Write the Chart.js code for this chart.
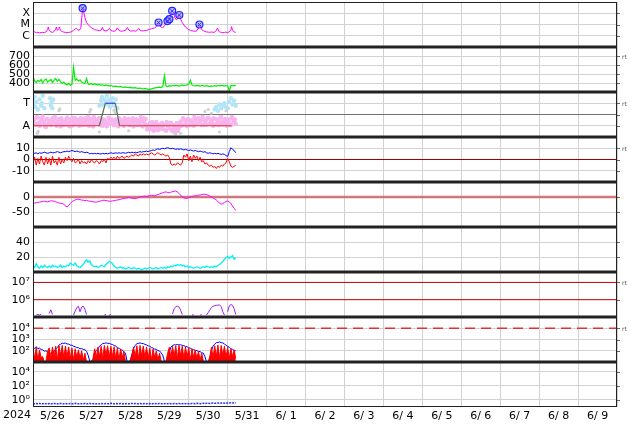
<!DOCTYPE html>
<html><head><meta charset="utf-8">
<script src="https://cdn.jsdelivr.net/npm/chart.js@4/dist/chart.umd.min.js"></script>
<style>html,body{margin:0;padding:0;background:#fff;}canvas{display:block;}</style>
</head><body>
<canvas id="c" width="634" height="424"></canvas>
<script>
// ---------- DATA (time in hours since 2024-05-26 00:00 UT) ----------
const dayLabels = ['5/26','5/27','5/28','5/29','5/30','5/31','6/ 1','6/ 2','6/ 3','6/ 4','6/ 5','6/ 6','6/ 7','6/ 8','6/ 9'];
const yearLabel = '2024';
const rtLabel = 'rt';

// Panel 1: X-ray flux (1e-6 W/m2 units)  [hour, flux]
const xray = [[0,3.0],[1,2.2],[2,1.9],[3,2.0],[4,1.8],[5,1.9],[6,2.0],[7,1.9],[8,2.2],[9,3.5],[9.4,6.0],[10,3.0],[11,2.2],[12,2.0],[13,2.4],[14,4.0],[14.4,6.0],[15,3.0],[16,4.5],[16.2,6.0],[17,3.0],[18,2.4],[19,2.1],[20,2.0],[21,1.9],[22,2.0],[23,2.1],[24,2.4],[25,3.0],[26,4.0],[26.7,4.6],[27.5,3.5],[28.5,3.0],[29.5,5.0],[30.2,60],[30.6,280],[31.2,150],[32,40],[33,15],[34,10],[35,7],[36,5],[37,4.2],[38,3.6],[39,3.2],[40,3.0],[41,2.8],[42,3.2],[42.8,5.5],[43.5,3.0],[45,2.7],[46,3.0],[47.1,4.5],[48,3.0],[49,2.6],[50,2.5],[51,2.8],[52,5.0],[53,3.0],[54,2.6],[55,2.5],[56,2.8],[57,3.0],[58.2,5.5],[59,3.2],[60,2.7],[61,2.6],[62,2.9],[63,2.5],[64,2.8],[65.2,4.5],[66,3.0],[67,2.8],[68,2.7],[69,2.9],[70,3.0],[71,3.4],[72,3.8],[73,4.2],[74,4.6],[75,5.0],[76,6.5],[77,10],[77.4,15],[78,8],[79,6],[80,5.5],[81,7],[82,12],[82.9,20],[83.5,15],[84.1,30],[84.8,60],[85.8,160],[86.6,110],[87.5,40],[88.5,25],[89.4,40],[90.2,70],[91,30],[92,15],[93,9],[94,6],[95,4.5],[96,3.6],[97,3.0],[98,2.8],[99,2.6],[100,2.5],[101,2.7],[102,5],[102.6,10],[103.3,6],[104,3.5],[105,2.8],[106,2.4],[107,2.2],[108,2.1],[109,2.0],[110,2.2],[111,2.0],[112,2.1],[113,3.0],[113.7,4.8],[114.5,2.6],[115,2.2],[116,2.0],[117,1.9],[118,2.0],[119,2.1],[120,1.9],[121,2.2],[122,3.5],[122.4,6.5],[123,3.0],[124,2.2],[125,2.0]];
const flares = [[30.6,280],[77.4,15],[82.9,20],[84.1,30],[85.8,160],[90.2,70],[102.6,10]];
const xrayTicks = [1,10,100];
const xrayTickLabels = ['C','M','X'];

// Panel 2: solar wind speed (km/s), hourly
const windSpeed = [480,420,405,430,415,440,400,430,445,410,
 425,440,405,430,450,420,440,415,395,410,
 390,380,395,375,385,575,430,445,420,435,
 410,400,395,450,390,385,395,380,390,385,
 380,385,375,380,372,378,370,368,372,365,
 362,366,360,358,362,355,352,356,350,348,
 352,346,345,348,342,340,344,338,336,340,
 335,332,330,334,340,345,348,352,355,350,
 360,480,365,360,370,365,372,368,375,370,
 365,372,378,370,376,380,385,430,378,372,
 368,374,370,366,372,368,364,370,366,362,
 368,364,370,366,372,368,374,370,366,372,
 368,315,372,368,374,370];
const speedTicks = [400,500,600,700];

// Panel 3: IMF phi angle (deg), sector
const phiAway = [120,145,100,155,90,130,165,110,80,140,
 125,95,150,115,135,105,145,85,130,120,
 100,155,110,140,90,125,150,105,135,115,
 95,145,120,100,160,110,130,85,140,125,
 105,150,115,90,135,120,100,145,110,130,
 95,140,120,150,105,125,90,135,115,145,
 100,130,85,120,140,110,95,125,150,105,
 90,70,110,60,95,80,120,55,100,75,
 65,105,50,90,70,115,60,85,45,100,
 80,125,95,140,110,85,130,100,120,90,
 135,105,150,115,95,140,120,100,155,110,
 125,90,145,105,130,115,160,100,135,120,
 110,140,95,150,125,105];
const phiAwayHalf = [135,105,160,115,95,150,125,85,145,110,
 100,140,120,160,90,130,110,150,95,125,
 145,115,85,130,155,100,120,140,90,150,
 120,100,150,135,90,145,115,160,105,130,
 150,95,125,140,110,85,155,120,140,100,
 130,115,85,145,125,100,150,110,135,95,
 125,150,105,140,95,130,160,85,120,145,
 60,100,80,120,50,110,70,90,65,115,
 95,55,120,75,105,50,95,70,110,60,
 110,90,150,100,130,145,95,135,110,160,
 100,145,120,135,160,95,130,150,105,140,
 115,150,100,140,95,155,125,105,145,90,
 130,100,160,120,140];
const phiToward = [[0,300],[0.5,260],[1,320],[1.5,240],[2,280],[3,220],[4,300],[5,250],[5.5,270],[6,330],[7,230],
 [10.5,310],[11,250],[11.5,280],[12,230],[12.5,300],
 [41,250],[42,290],[42.5,320],[43,260],[44,300],[45,280],[45.5,330],[46,260],[47,300],[47.5,240],[48,290],[49,310],[49.5,270],[50,250],[51,300],[52,230],
 [112,220],[113,240],[114,210],[115,260],[116,230],[117,250],[118,270],[119,240],[120,230],[121,280],[122,310],[123,260],[124,290],[125,250]];
const phiOther = [[2.6,30],[3.2,45],[16,210],[16.5,225],[35,200],[35.6,220],[41,40],[50,215],[50.6,195],[59,50],[87,35],[88,25],[89.5,45],[91,30],[106,205],[108,220],[110,190],[112,230],[115,40],[119,210],[119.5,225]];
const sector = [[0,90],[40.9,90],[44.6,270],[50.8,270],[53.3,90],[122.4,90]];
const phiTicks = [90,180,270];
const phiTickLabels = ['A','','T'];

// Panel 4: IMF Bt / Bz (nT), hourly
const bt = [6,5.5,6,5,6,5.5,6,6.5,6,5.5,
 6,6.5,6,6,6.5,7,6.5,6,6.5,7,
 7,7.5,7,7.5,8,7.5,7,7.5,7,6.5,
 7,6.5,6,6.5,6,5,5.5,5,5.5,5,
 5.5,5,5,5.5,5,5.5,5,5.5,6,5.5,
 5.5,6,5.5,6,5.5,6,6,5.5,6,6.5,
 6,6.5,6,6.5,6,6.5,7,6.5,7,7,
 7.5,7,7.5,8,8.5,8,9,9.5,9,9.5,
 10,9.5,10,10.5,10,9.5,10,9.5,9,9.5,
 9,9.5,9,8.5,9,8.5,8,8.5,8,7.5,
 8,7.5,7,7.5,7,6.5,7,6,5.5,6,
 5.5,5,5.5,5,5.5,5,4.5,5,4.5,3.5,
 2.5,7,10.5,9,8,6];
const bz = [-3,2,-5,1,-4,3,-2,-5,2,-4,
 1,-5,3,-3,-1,-5,2,-4,0,-3,
 2,-1,3,0,-2,1,-3,-2,0,-4,
 -1,-3,-2,-4,-1,-3,0,-2,-3,-1,
 -2,-4,-1,-2,0,-3,1,0,2,1,
 2,0,3,1,2,3,1,2,3,2,
 3,4,3,5,4,3,5,4,5,4,
 5,4,5,6,5,4,5,6,5,4,
 5,4,3,4,2,-4,-5,-4,-5,-3,
 -4,-5,-3,4,2,5,-1,3,-2,4,
 1,3,-1,2,-2,-1,-4,-3,-5,-6,
 -5,-7,-6,-8,-6,-7,-5,-6,-4,-3,
 1,-2,-6,-7,-6,-5];
const bTicks = [-10,0,10];
const bZeroLine = [0,0];

// Panel 5: Dst (nT), hourly
const dst = [-22,-20,-19,-18,-17,-16,-15,-14,-15,-16,
 -14,-13,-13,-14,-16,-18,-20,-21,-22,-24,
 -30,-33,-28,-22,-16,-12,-10,-8,-7,-9,
 -10,-11,-12,-11,-13,-14,-15,-16,-17,-17,
 -16,-14,-13,-11,-11,-12,-13,-14,-14,-13,
 -12,-11,-10,-9,-8,-6,-5,-4,-3,-2,
 -3,-4,-5,-5,-4,-2,0,1,2,3,
 2,3,5,6,5,4,6,8,10,12,
 14,16,17,15,14,16,18,19,20,17,
 12,6,0,-3,-5,-4,-2,0,2,3,
 4,5,6,7,8,9,9,8,6,3,
 0,-3,-6,-10,-15,-20,-24,-22,-18,-15,
 -13,-16,-22,-30,-38,-45];
const dstTicks = [-50,0];
const dstZeroLine = [0,0];

// Panel 6: proton density (/cc), hourly
const density = [9,6,11,7,5,8,6,9,7,6,
 8,6,9,7,8,6,7,9,6,8,
 7,9,8,12,10,9,12,8,7,6,
 8,10,14,16,13,15,10,8,7,8,
 6,7,9,8,7,10,12,14,13,11,
 8,6,5,6,7,5,6,4,5,6,
 5,4,6,5,4,5,4,3,4,5,
 4,5,6,5,4,5,6,4,5,6,
 5,6,5,7,6,8,7,9,8,10,
 9,10,8,9,7,8,6,7,6,5,
 6,7,6,5,6,7,6,8,7,6,
 7,6,8,7,9,10,12,14,17,19,
 21,18,20,22,17,19];
const densTicks = [20,40];

// Panel 7: >2 MeV electron flux, hourly (null = below range)
const electron = [null,null,1.3e5,1.4e5,1.3e5,1.5e5,null,null,null,null,
 1.6e5,2.6e5,1.4e5,null,null,null,null,null,null,null,
 null,null,null,null,null,1.3e5,2.2e5,3.5e5,4.2e5,2.0e5,
 3.8e5,4.2e5,2.8e5,1.4e5,null,null,null,null,null,null,
 null,null,null,null,1.3e5,1.4e5,null,1.3e5,1.35e5,null,
 null,null,null,null,null,null,null,null,null,null,
 null,null,null,null,null,null,null,null,null,null,
 null,null,null,null,null,null,null,null,null,null,
 null,null,null,null,null,null,1.5e5,3.0e5,4.0e5,4.2e5,
 3.8e5,2.5e5,1.4e5,null,null,null,null,null,1.3e5,1.35e5,
 null,null,null,1.3e5,1.35e5,null,null,1.3e5,1.8e5,2.5e5,
 3.5e5,4.2e5,4.5e5,4.8e5,4.8e5,5.0e5,4.0e5,2.0e5,1.3e5,null,
 2.0e5,4.5e5,5.2e5,4.8e5,3.0e5,1.4e5];
const elecTicks = [1e6,1e7];
const elecTickLabels = ['10\u2076','10\u2077'];
const elecAlertLines = [1e6,1e7];

// Panel 8: particle flux (two channels), hourly
const fluxBlue = [200,160,230,150,170,130,120,90,100,75,
 70,55,75,85,140,190,320,380,470,450,
 480,400,390,320,310,250,230,190,185,150,
 160,130,125,90,40,12,10,15,60,110,
 140,260,330,440,450,500,460,450,390,360,
 290,260,190,170,120,115,85,60,12,10,
 15,50,160,290,430,450,500,440,430,370,
 330,270,250,190,175,140,135,105,95,65,
 40,12,10,15,80,210,290,340,330,360,
 330,340,300,290,240,230,180,170,135,125,
 105,105,85,85,65,62,30,10,10,20,
 100,260,380,520,540,600,530,500,390,310,
 240,210,150,135,105,100];
const fluxRed = [150,20,200,15,120,25,30,10,12,90,
 180,20,220,30,250,15,280,40,300,25,
 260,30,220,20,180,15,150,25,120,20,
 100,15,60,10,10,10,12,20,150,25,
 200,30,250,20,300,40,280,25,250,30,
 220,20,180,15,150,25,90,12,10,10,
 15,40,220,30,280,20,300,35,260,25,
 220,20,180,15,140,25,100,15,60,12,
 10,10,12,60,200,25,250,30,280,20,
 300,35,260,20,220,30,180,15,150,25,
 120,20,90,15,60,12,10,10,10,30,
 200,25,280,30,320,20,300,40,250,25,
 200,20,150,30,120,20];
const fluxTicks = [1e2,1e3,1e4];
const fluxTickLabels = ['10\u00b2','10\u00b3','10\u2074'];
const fluxAlertLine = [1e4,1e4];

// Panel 9: low-level flux, hourly
const lowFlux = [0.3,0.28,0.32,0.29,0.31,0.27,0.3,0.33,0.29,0.3,
 0.31,0.28,0.3,0.32,0.29,0.3,0.27,0.31,0.3,0.29,
 0.32,0.3,0.28,0.31,0.29,0.3,0.33,0.3,0.28,0.31,
 0.3,0.29,0.31,0.28,0.3,0.32,0.29,0.3,0.31,0.28,
 0.3,0.29,0.32,0.3,0.28,0.31,0.3,0.29,0.33,0.3,
 0.28,0.31,0.3,0.29,0.32,0.3,0.28,0.3,0.31,0.29,
 0.3,0.32,0.29,0.31,0.3,0.28,0.31,0.3,0.29,0.32,
 0.3,0.28,0.31,0.29,0.3,0.32,0.3,0.29,0.31,0.3,
 0.28,0.3,0.31,0.29,0.32,0.3,0.29,0.31,0.3,0.28,
 0.31,0.3,0.29,0.32,0.3,0.31,0.29,0.3,0.32,0.31,
 0.3,0.33,0.31,0.3,0.32,0.34,0.31,0.33,0.35,0.32,
 0.34,0.36,0.33,0.35,0.37,0.34,0.36,0.38,0.35,0.37,
 0.36,0.38,0.4,0.37,0.39,0.36];
const lowTicks = [1,1e2,1e4];
const lowTickLabels = ['10\u2070','10\u00b2','10\u2074'];

// ---------- helpers ----------
const hourly = arr => arr.map((v,i) => ({x:i, y:v}));
const halfHourly = arr => arr.map((v,i) => ({x:i+0.5, y:v}));
const pairs = arr => arr.map(p => ({x:p[0], y:p[1]}));
const span = vals => [{x:0,y:vals[0]},{x:360,y:vals[1]}];
const FONT = {family:'DejaVu Sans', size:11};

function line(axis, data, color, extra) {
  return Object.assign({type:'line', xAxisID:'x', yAxisID:axis, data, borderColor:color, backgroundColor:color,
    borderWidth:1, pointRadius:0, tension:0, spanGaps:false, fill:false}, extra||{});
}
function scatter(axis, data, color, r) {
  return {type:'line', xAxisID:'x', yAxisID:axis, data, showLine:false, pointRadius:r, pointHoverRadius:r,
    pointBackgroundColor:color, pointBorderWidth:0, borderColor:color, backgroundColor:color, order:5};
}

const datasets = [
  line('y1', pairs(xray), '#ff00ff', {order:2}),
  line('y1', pairs(flares), '#2020ff', {showLine:false, pointRadius:3.5, pointStyle:'circle', pointBorderColor:'#2020ff', pointBackgroundColor:'rgba(150,150,255,0.6)', pointBorderWidth:1.2, order:1}),
  line('y1', pairs(flares), '#2020ff', {showLine:false, pointRadius:2.5, pointStyle:'crossRot', pointBorderColor:'#3030ff', pointBorderWidth:1, order:0}),
  line('y2', hourly(windSpeed), '#00ee00', {borderWidth:1.2}),
  scatter('y3', hourly(phiAway), '#f7b4ef', 2.2),
  scatter('y3', halfHourly(phiAwayHalf), '#f7b4ef', 2.2),
  scatter('y3', pairs(phiToward), '#b4e4f8', 2.2),
  scatter('y3', pairs(phiOther), '#cfcfcf', 1.6),
  line('y3', pairs(sector), '#e03030', {borderWidth:1.2, order:0, segment:{borderColor: c => {
      const a=c.p0.parsed.y, b=c.p1.parsed.y; return a===b ? (a<180 ? '#e03030' : '#3a3ad8') : '#55704a'; }}}),
  line('y4', span(bZeroLine), '#a00000', {order:3}),
  line('y4', hourly(bt), '#0000ff', {order:2}),
  line('y4', hourly(bz), '#ff0000', {order:1}),
  line('y5', span(dstZeroLine), 'rgba(205,100,100,0.85)', {borderWidth:2.5, order:3}),
  line('y5', hourly(dst), '#ff00ff', {order:1}),
  line('y6', hourly(density), '#00f0f0', {borderWidth:1.3}),
  line('y7', span([elecAlertLines[1],elecAlertLines[1]]), '#cc0000', {order:3}),
  line('y7', span([elecAlertLines[0],elecAlertLines[0]]), '#cc0000', {order:3}),
  line('y7', hourly(electron), '#a020f0', {order:1}),
  line('y8', span(fluxAlertLine), '#dd3333', {borderWidth:1.5, borderDash:[10,6], order:3}),
  line('y8', hourly(fluxBlue), '#0000ff', {order:2}),
  line('y8', hourly(fluxRed), '#ff0000', {order:1, fill:'start', backgroundColor:'#ff0000'}),
  line('y9', hourly(lowFlux), '#2233ff', {borderWidth:1.5, borderDash:[2,1]})
];

const panelIds = ['y1','y2','y3','y4','y5','y6','y7','y8','y9'];
function yScale(idx, type, min, max, ticks, labels, gridColor) {
  return {
    type, min, max, position:'left', stack:'panels', stackWeight:1, weight: 9-idx, offset:false,
    border:{display:false},
    grid:{color: gridColor || '#d2d2d2', lineWidth:1, drawTicks:false},
    ticks:{font:FONT, color:'#000', padding:3, autoSkip:false, maxRotation:0,
      callback:(v,i) => labels ? labels[i] : String(v)},
    afterBuildTicks: s => { s.ticks = ticks.map(v => ({value:v})); },
    afterFit: s => { s.width = 33; s.paddingTop = 0; s.paddingBottom = 0; }
  };
}

const scales = {
  x: {type:'linear', min:0, max:360, position:'bottom',
    border:{display:false},
    grid:{color: c => (c.tick && c.tick.value % 24 === 0) ? '#d2d2d2' : 'rgba(0,0,0,0)', lineWidth:1, drawTicks:false},
    ticks:{font:{family:'DejaVu Sans', size:11}, color:'#000', padding:3, autoSkip:false, maxRotation:0, minRotation:0,
      callback: v => (v % 24 === 12) ? dayLabels[Math.floor(v/24)] : ''},
    afterBuildTicks: s => { const t=[]; for (let v=0; v<=360; v+=12) t.push({value:v}); s.ticks = t; },
    afterFit: s => { s.height = 17; s.paddingLeft = 0; s.paddingRight = 0; s.paddingTop = 0; s.paddingBottom = 0; }
  },
  y1: yScale(0,'logarithmic',0.1,1000,xrayTicks,xrayTickLabels),
  y2: yScale(1,'linear',300,800,speedTicks,null),
  y3: yScale(2,'linear',0,360,phiTicks,phiTickLabels, c => (c.tick && c.tick.value===180) ? '#707070' : '#d2d2d2'),
  y4: yScale(3,'linear',-20,20,bTicks,null),
  y5: yScale(4,'linear',-100,50,dstTicks,null),
  y6: yScale(5,'linear',0,60,densTicks,null),
  y7: yScale(6,'logarithmic',1e5,4e7,elecTicks,elecTickLabels),
  y8: yScale(7,'logarithmic',10,1e5,fluxTicks,fluxTickLabels),
  y9: yScale(8,'logarithmic',0.1,2.5e5,lowTicks,lowTickLabels)
};

const rtPanels = ['y2','y3','y4','y7','y8'];
const framePlugin = {
  id:'frame',
  afterDraw(chart) {
    const ctx = chart.ctx, a = chart.chartArea;
    ctx.save();
    ctx.strokeStyle = '#666'; ctx.lineWidth = 1;
    panelIds.forEach(id => {
      const s = chart.scales[id];
      s.ticks.forEach(t => { const y = Math.round(s.getPixelForValue(t.value)) + 0.5;
        ctx.beginPath(); ctx.moveTo(a.right, y); ctx.lineTo(a.right + 3, y); ctx.stroke(); });
    });
    ctx.strokeStyle = '#222'; ctx.lineWidth = 1;
    ctx.strokeRect(a.left + 0.5, a.top + 0.5, a.right - a.left - 1, a.bottom - a.top - 1);
    ctx.lineWidth = 3;
    panelIds.slice(1).forEach(id => {
      const y = chart.scales[id].top;
      ctx.beginPath(); ctx.moveTo(a.left, y); ctx.lineTo(a.right, y); ctx.stroke();
    });
    ctx.fillStyle = '#000'; ctx.font = '11px "DejaVu Sans"'; ctx.textAlign = 'center'; ctx.textBaseline = 'top';
    ctx.fillText(yearLabel, 17, a.bottom + 3);
    ctx.fillStyle = '#555'; ctx.font = '6px "DejaVu Sans"'; ctx.textAlign = 'left'; ctx.textBaseline = 'middle';
    rtPanels.forEach(id => {
      const s = chart.scales[id];
      ctx.fillText(rtLabel, a.right + 5, s.getPixelForValue(s.ticks[s.ticks.length-1].value) + 1);
    });
    ctx.restore();
  }
};

new Chart(document.getElementById('c'), {
  data:{datasets},
  options:{
    responsive:false, animation:false, devicePixelRatio:1,
    layout:{autoPadding:false, padding:{top:2, right:17, bottom:0, left:0}},
    plugins:{legend:{display:false}, tooltip:{enabled:false}},
    scales
  },
  plugins:[framePlugin]
});
</script></body></html>
